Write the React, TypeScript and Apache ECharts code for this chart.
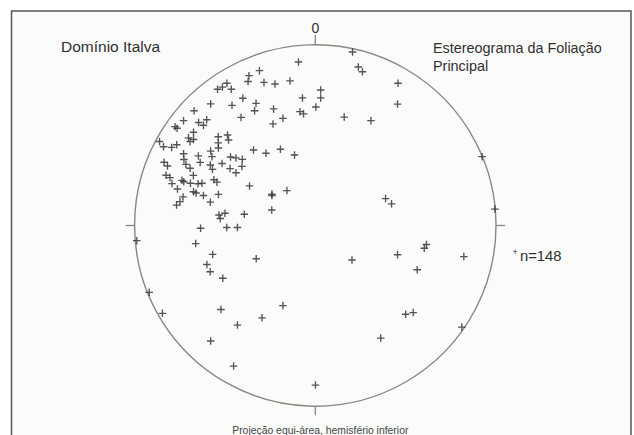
import React, { useEffect, useRef } from "react";
import * as echarts from "echarts";

// Poles plotted on the equal-area net: east (x) and north (y) offsets, in % of the net radius
const east: number[] = [
  20.6, -9.3, 23.8, 26.1, 45.8, 45.5, -30.9, -36.7, -37.2, -28.4, -22.3, -14.0, -54.1, -51.4, -48.9, -46.5,
  3.0, 3.0, -7.1, 0.3, -40.1, -57.9, -46.1, -32.8, -33.6, -23.1, -8.5, -6.5, 16.0, 30.8, -67.1, -17.9,
  -23.4, -41.1, -72.9, -64.6, -60.1, -61.9, -77.6, -76.5, -67.4,
  -70.2, -67.4, -69.3, -53.7, -48.6, -53.7, -48.0, -53.6, -86.2, -84.0, -79.5, -76.7, -34.2, -27.3, -19.3,
  -11.5, -72.9, -72.7, -64.7, -57.9, -57.2, -46.9, -43.9, -40.4, -51.6, -83.7, -81.8, -71.6, -69.3, -63.7,
  -58.1, -56.9, -47.2, -40.6, -43.9, -82.6, -80.4, -67.5, -73.8, -72.8, -69.1, -64.9, -62.7, -56.1, -54.4,
  -79.3, -76.3, -67.4, -66.0, -61.9, -53.6, -36.4, -24.0, -24.0, -15.7, -73.2, -74.9, -76.8, -58.1, -24.1,
  -53.3, -52.6, -50.0, -39.3, -63.5, -49.0, -43.1,
  92.3, 38.9, 42.2, 99.4, 61.5, 60.3, 20.3, 45.5, 82.2, 56.4, 50.0, 54.2, 81.1, 36.2,
  -98.8, -66.2, -56.8, -32.7, -60.0, -58.2, -51.2, -91.9, -84.6, -52.2, -17.9, -29.5, -43.1, -57.9, -45.2, 0.1,
];
const north: number[] = [
  96.0, 90.5, 87.7, 85.1, 78.7, 67.2, 85.7, 82.9, 79.7, 79.2, 78.3, 80.0, 75.4, 76.6, 78.7, 75.4,
  75.0, 70.6, 70.6, 65.6, 70.4, 67.3, 66.5, 67.6, 63.5, 64.5, 63.0, 61.8, 60.0, 58.0, 63.5, 59.3,
  56.2, 59.8, 58.0, 57.0, 58.5, 55.5, 54.7, 53.8, 51.6,
  48.5, 47.6, 46.4, 49.1, 50.1, 45.7, 47.3, 42.9, 46.5, 43.6, 43.2, 44.7, 41.8, 40.0, 42.2,
  39.0, 39.7, 36.5, 38.5, 41.2, 38.1, 37.9, 37.4, 36.6, 34.3, 35.0, 32.9, 33.8, 31.7, 34.9,
  33.5, 31.1, 31.5, 32.7, 29.2, 27.8, 26.5, 27.7, 25.0, 24.2, 23.4, 23.1, 23.4, 25.3, 24.0,
  23.2, 20.2, 18.7, 18.0, 16.6, 17.2, 21.9, 17.4, 16.6, 19.3, 15.8, 13.2, 11.3, 12.9, 8.6,
  5.8, 3.9, 6.8, 6.2, -1.5, -1.1, -1.1,
  38.1, 14.9, 12.0, 9.1, -10.5, -12.6, -19.1, -16.2, -17.2, -24.5, -49.1, -48.2, -56.2, -62.3,
  -8.4, -10.0, -16.0, -18.4, -21.6, -25.6, -29.2, -37.0, -48.6, -46.5, -44.3, -51.1, -55.1, -63.9, -77.8, -88.3,
];

const TITLE_LEFT = "Domínio Italva";
const TITLE_RIGHT = "Estereograma da Foliação\nPrincipal";
const NORTH_LABEL = "0";
const COUNT_LABEL = "n=148";
const FOOTNOTE = "Projeção equi-área, hemisfério inferior";

const FONT = "'Liberation Sans', Arial, sans-serif";
const CROSS = "path://M4.1,0h1.8v4.1h4.1v1.8h-4.1v4.1h-1.8v-4.1h-4.1v-1.8h4.1z";

export default function App() {
  const ref = useRef<HTMLDivElement>(null);
  useEffect(() => {
    if (!ref.current) return;
    const chart = echarts.init(ref.current, null, { renderer: "svg" });
    const cx = 315.3;
    const cy = 225.5;
    const r = 180.7;
    const points = east.map((x, i) => [x, north[i]]);
    const ink = "#2a2a2a";
    const netColor = "#8e8484";
    const textColor = "#2f2f2f";
    chart.setOption({
      animation: false,
      backgroundColor: "#ffffff",
      grid: { left: cx - r, top: cy - r, width: 2 * r, height: 2 * r, containLabel: false },
      xAxis: { type: "value", min: -100, max: 100, show: false },
      yAxis: { type: "value", min: -100, max: 100, show: false },
      graphic: [
        {
          type: "rect",
          z: -10,
          shape: { x: 11.5, y: 11, width: 619.5, height: 440 },
          style: { fill: "#fbfbfb", stroke: "#555555", lineWidth: 1.5 },
        },
        {
          type: "circle",
          z: -5,
          shape: { cx, cy, r },
          style: { fill: "none", stroke: netColor, lineWidth: 1.4 },
        },
        { type: "line", shape: { x1: cx, y1: cy - r - 10, x2: cx, y2: cy - r }, style: { stroke: netColor, lineWidth: 1.3 } },
        { type: "line", shape: { x1: cx, y1: cy + r, x2: cx, y2: cy + r + 9 }, style: { stroke: netColor, lineWidth: 1.3 } },
        { type: "line", shape: { x1: cx - r - 9, y1: cy, x2: cx - r, y2: cy }, style: { stroke: netColor, lineWidth: 1.3 } },
        { type: "line", shape: { x1: cx + r, y1: cy, x2: cx + r + 9, y2: cy }, style: { stroke: netColor, lineWidth: 1.3 } },
        {
          type: "text",
          x: 61,
          y: 46,
          style: { text: TITLE_LEFT, fill: textColor, font: `15.5px ${FONT}`, verticalAlign: "middle" },
        },
        {
          type: "text",
          x: 433,
          y: 39,
          style: { text: TITLE_RIGHT, fill: textColor, font: `14.4px ${FONT}`, lineHeight: 18 },
        },
        {
          type: "text",
          x: cx,
          y: 28,
          style: { text: NORTH_LABEL, fill: textColor, font: `14px ${FONT}`, align: "center", verticalAlign: "middle" },
        },
        {
          type: "text",
          x: 515,
          y: 252,
          style: { text: "+", fill: textColor, font: `9px ${FONT}`, align: "center", verticalAlign: "middle" },
        },
        {
          type: "text",
          x: 520,
          y: 256,
          style: { text: COUNT_LABEL, fill: textColor, font: `14.8px ${FONT}`, verticalAlign: "middle" },
        },
        {
          type: "text",
          x: cx + 5,
          y: 430,
          style: { text: FOOTNOTE, fill: "#444", font: `10.4px ${FONT}`, align: "center", verticalAlign: "middle" },
        },
      ],
      series: [
        {
          type: "scatter",
          data: points,
          symbol: CROSS,
          symbolSize: 7.5,
          itemStyle: { color: ink },
          silent: true,
        },
      ],
    });
    return () => chart.dispose();
  }, []);
  return (
    <div
      ref={ref}
      style={{ position: "absolute", left: 0, top: 0, width: 634, height: 435 }}
    />
  );
}
